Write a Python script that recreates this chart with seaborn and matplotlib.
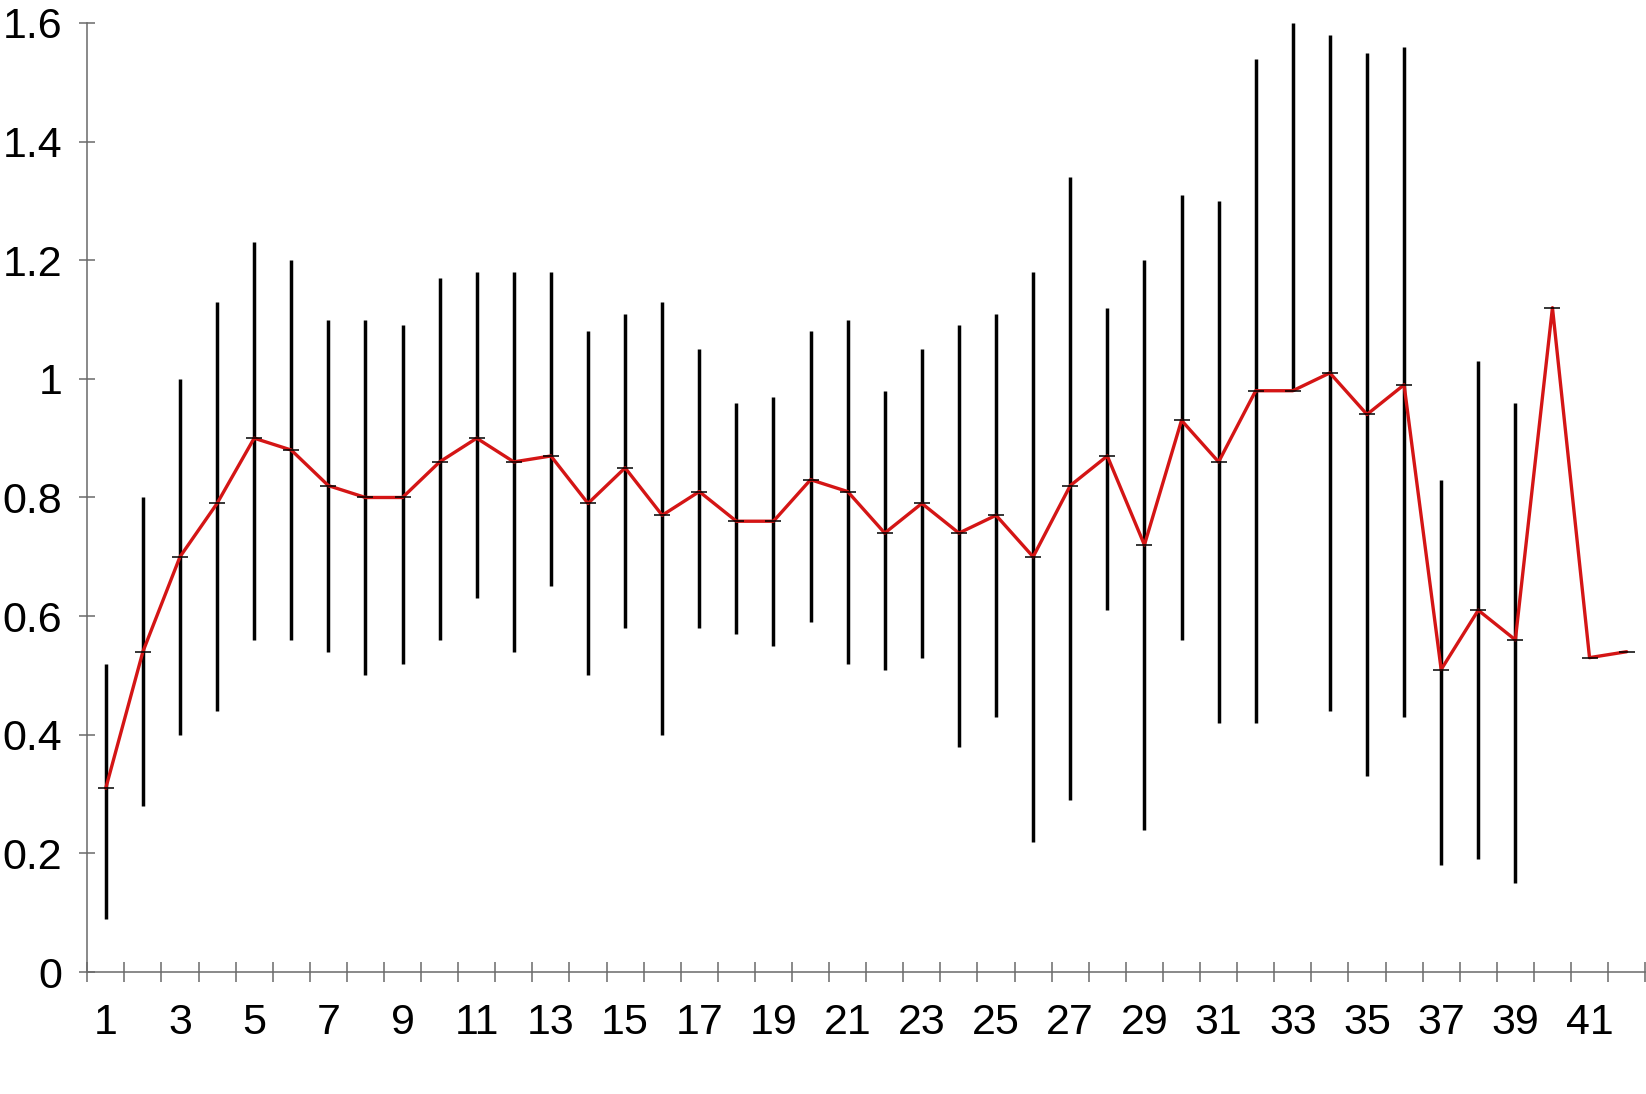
import numpy as np
import pandas as pd
import matplotlib
matplotlib.use("Agg")
import matplotlib.pyplot as plt
import seaborn as sns

# category index along the x axis
categories = list(range(1, 43))

# mean values (red line)
means = [0.31, 0.54, 0.70, 0.79, 0.90, 0.88, 0.82, 0.80, 0.80, 0.86,
         0.90, 0.86, 0.87, 0.79, 0.85, 0.77, 0.81, 0.76, 0.76, 0.83,
         0.81, 0.74, 0.79, 0.74, 0.77, 0.70, 0.82, 0.87, 0.72, 0.93,
         0.86, 0.98, 0.98, 1.01, 0.94, 0.99, 0.51, 0.61, 0.56, 1.12,
         0.53, 0.54]

# error bar ends (NaN = no bar)
upper = [0.52, 0.80, 1.00, 1.13, 1.23, 1.20, 1.10, 1.10, 1.09, 1.17,
         1.18, 1.18, 1.18, 1.08, 1.11, 1.13, 1.05, 0.96, 0.97, 1.08,
         1.10, 0.98, 1.05, 1.09, 1.11, 1.18, 1.34, 1.12, 1.20, 1.31,
         1.30, 1.54, 1.60, 1.58, 1.55, 1.56, 0.83, 1.03, 0.96, np.nan,
         np.nan, np.nan]
lower = [0.09, 0.28, 0.40, 0.44, 0.56, 0.56, 0.54, 0.50, 0.52, 0.56,
         0.63, 0.54, 0.65, 0.50, 0.58, 0.40, 0.58, 0.57, 0.55, 0.59,
         0.52, 0.51, 0.53, 0.38, 0.43, 0.22, 0.29, 0.61, 0.24, 0.56,
         0.42, 0.42, 0.98, 0.44, 0.33, 0.43, 0.18, 0.19, 0.15, np.nan,
         np.nan, np.nan]

y_ticks = [0, 0.2, 0.4, 0.6, 0.8, 1.0, 1.2, 1.4, 1.6]

df = pd.DataFrame({"x": categories, "mean": means, "hi": upper, "lo": lower})

sns.set_theme(style="white")
plt.rcParams["font.family"] = ["Liberation Sans", "DejaVu Sans"]

fig = plt.figure(figsize=(16.46, 10.94), dpi=100)
ax = fig.add_axes([0.053, 0.1115, 0.9465, 0.8675])

axis_grey = "#6a6a6a"
red = "#d41515"

# error bars
bars = df.dropna(subset=["hi", "lo"])
ax.vlines(bars["x"], bars["lo"], bars["hi"], color="black", lw=2.5, zorder=2)

# mean line
sns.lineplot(data=df, x="x", y="mean", color=red, lw=2.4, ax=ax, zorder=3)

# small mark at each mean
ax.plot(df["x"], df["mean"], ls="none", marker="_", ms=12, mew=1.1,
        color="black", zorder=4)

ax.set_xlim(0.5, 42.5)
ax.set_ylim(0, 1.6)

# boundary ticks (no labels) and labels at every other category
ax.set_xticks(np.arange(0.5, 43, 1))
ax.set_xticklabels([])
ax.set_xticks(categories[::2], minor=True)
ax.set_xticklabels([str(c) for c in categories[::2]], minor=True)
ax.tick_params(axis="x", which="major", direction="inout", length=14,
               width=1.1, color=axis_grey, bottom=True)
ax.tick_params(axis="x", which="minor", length=0, pad=22, labelsize=31,
               labelcolor="black", bottom=True)

ax.set_yticks(y_ticks)
ax.set_yticklabels([f"{v:g}" for v in y_ticks])
ax.tick_params(axis="y", direction="inout", length=12, width=1.1,
               color=axis_grey, left=True, pad=12, labelsize=31,
               labelcolor="black")

ax.set_xlabel("")
ax.set_ylabel("")
for side in ["top", "right"]:
    ax.spines[side].set_visible(False)
for side in ["left", "bottom"]:
    ax.spines[side].set_color(axis_grey)
    ax.spines[side].set_linewidth(1.1)

fig.savefig("out.png", dpi=100, facecolor="white")
